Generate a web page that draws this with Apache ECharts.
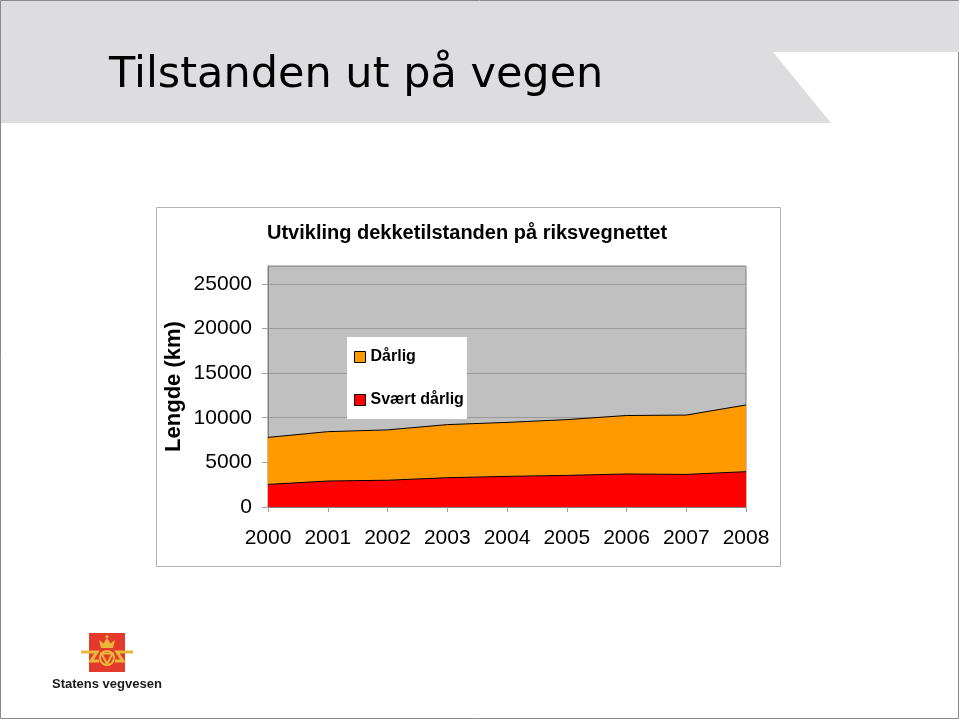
<!DOCTYPE html>
<html>
<head>
<meta charset="utf-8">
<style>
  html, body { margin: 0; padding: 0; background: #ffffff; }
  #chart { width: 960px; height: 720px; }
</style>
<script src="https://cdn.jsdelivr.net/npm/echarts@6/dist/echarts.min.js"></script>
</head>
<body>
<div id="chart"></div>
<script>
// ---- Data ----
var years = ['2000', '2001', '2002', '2003', '2004', '2005', '2006', '2007', '2008'];
var svaertDarlig = [2530, 2910, 3000, 3280, 3430, 3540, 3700, 3650, 3960];
var darlig = [5270, 5530, 5640, 5950, 6050, 6250, 6550, 6650, 7470];
var yTicks = { min: 0, max: 27000, interval: 5000 };

var slideTitle = 'Tilstanden ut på vegen';
var chartTitle = 'Utvikling dekketilstanden på riksvegnettet';
var yAxisName = 'Lengde (km)';
var seriesNames = ['Dårlig', 'Svært dårlig'];
var logoText = 'Statens vegvesen';

var ORANGE = '#ff9900';
var RED = '#ff0000';
var YELLOW = '#e9b83a';
var FONT = '"Liberation Sans", Arial, sans-serif';

var chart = echarts.init(document.getElementById('chart'), null, { renderer: 'canvas' });

var option = {
  backgroundColor: '#ffffff',
  animation: false,
  title: {
    text: chartTitle,
    left: 267,
    top: 223,
    padding: 0,
    textStyle: { fontFamily: FONT, fontSize: 20, fontWeight: 'bold', color: '#000000' }
  },
  legend: {
    orient: 'vertical',
    left: 347,
    top: 337,
    padding: [12, 3, 11, 7],
    backgroundColor: '#ffffff',
    itemWidth: 11,
    itemHeight: 11,
    itemGap: 27,
    icon: 'rect',
    textStyle: { fontFamily: FONT, fontSize: 16, fontWeight: 'bold', color: '#000000' },
    data: [
      { name: seriesNames[0], itemStyle: { color: ORANGE, borderColor: '#000000', borderWidth: 1 } },
      { name: seriesNames[1], itemStyle: { color: RED, borderColor: '#000000', borderWidth: 1 } }
    ]
  },
  grid: {
    left: 268,
    right: 214,
    top: 266,
    bottom: 213,
    show: true,
    backgroundColor: '#c0c0c0',
    borderColor: '#808080',
    borderWidth: 1,
    containLabel: false
  },
  xAxis: {
    type: 'category',
    data: years,
    boundaryGap: false,
    axisLine: { show: true, lineStyle: { color: '#808080', width: 1 } },
    axisTick: { show: true, interval: 0, length: 5, inside: false, lineStyle: { color: '#a0a0a0' } },
    axisLabel: { interval: 0, hideOverlap: false, fontFamily: FONT, fontSize: 21, color: '#000000', margin: 21 },
    splitLine: { show: false }
  },
  yAxis: {
    type: 'value',
    min: yTicks.min,
    max: yTicks.max,
    interval: yTicks.interval,
    name: yAxisName,
    nameLocation: 'middle',
    nameRotate: 90,
    nameGap: 83,
    nameTextStyle: { fontFamily: FONT, fontSize: 22, fontWeight: 'bold', color: '#000000' },
    axisLine: { show: true, lineStyle: { color: '#808080', width: 1 } },
    axisTick: { show: true, length: 6, inside: false, lineStyle: { color: '#a0a0a0' } },
    axisLabel: {
      fontFamily: FONT, fontSize: 21, color: '#000000', margin: 16,
      showMaxLabel: false,
      formatter: function (v) { return v % yTicks.interval === 0 ? String(v) : ''; }
    },
    splitLine: { show: true, lineStyle: { color: '#9a9a9a', width: 1 } }
  },
  series: [
    {
      name: seriesNames[1],
      type: 'line',
      stack: 'total',
      data: svaertDarlig,
      symbol: 'none',
      showSymbol: false,
      itemStyle: { color: RED },
      lineStyle: { color: '#000000', width: 1 },
      areaStyle: { color: RED, opacity: 1 },
      z: 3
    },
    {
      name: seriesNames[0],
      type: 'line',
      stack: 'total',
      data: darlig,
      symbol: 'none',
      showSymbol: false,
      itemStyle: { color: ORANGE },
      lineStyle: { color: '#000000', width: 1 },
      areaStyle: { color: ORANGE, opacity: 1 },
      z: 2
    }
  ],
  graphic: [
    // slide border
    { type: 'rect', z: -20, silent: true,
      shape: { x: 0.5, y: 0.5, width: 958, height: 718 },
      style: { fill: '#ffffff', stroke: '#8a8a8a', lineWidth: 1 } },
    // header band
    { type: 'polygon', z: -15, silent: true,
      shape: { points: [[1, 1], [959, 1], [959, 52], [773, 52], [831, 123], [1, 123]] },
      style: { fill: '#dddddf' } },
    { type: 'text', z: -14, silent: true, left: 109, top: 54,
      style: { text: slideTitle, font: '43px "DejaVu Sans", Verdana, sans-serif', fill: '#000000' } },
    // chart frame
    { type: 'rect', z: -10, silent: true,
      shape: { x: 156.5, y: 207.5, width: 624, height: 359 },
      style: { fill: '#ffffff', stroke: '#b4b4b4', lineWidth: 1 } },
    // logo
    { type: 'group', z: 10, silent: true, children: [
      { type: 'rect', shape: { x: 89, y: 633, width: 36, height: 39 }, style: { fill: '#e43a2e' } },
      { type: 'polygon', shape: { points: [[101, 648], [113, 648], [115, 640], [110.5, 643.5], [107, 638], [103.5, 643.5], [99, 640]] },
        style: { fill: YELLOW } },
      { type: 'circle', shape: { cx: 107, cy: 636.5, r: 1.6 }, style: { fill: YELLOW } },
      { type: 'circle', shape: { cx: 107, cy: 658, r: 7 }, style: { fill: 'none', stroke: YELLOW, lineWidth: 2 } },
      { type: 'polygon', shape: { points: [[101.5, 653.5], [112.5, 653.5], [107, 664]] },
        style: { fill: 'none', stroke: YELLOW, lineWidth: 2 } },
      { type: 'polyline', shape: { points: [[81, 652], [97, 652], [91, 661], [99, 661]] },
        style: { fill: 'none', stroke: YELLOW, lineWidth: 3 } },
      { type: 'polyline', shape: { points: [[133, 652], [117, 652], [123, 661], [115, 661]] },
        style: { fill: 'none', stroke: YELLOW, lineWidth: 3 } }
    ] },
    { type: 'text', z: 10, silent: true, left: 52, top: 678,
      style: { text: logoText, font: 'bold 13px "Liberation Sans", Arial, sans-serif', fill: '#1a1a1a' } }
  ]
};

chart.setOption(option);
</script>
</body>
</html>
